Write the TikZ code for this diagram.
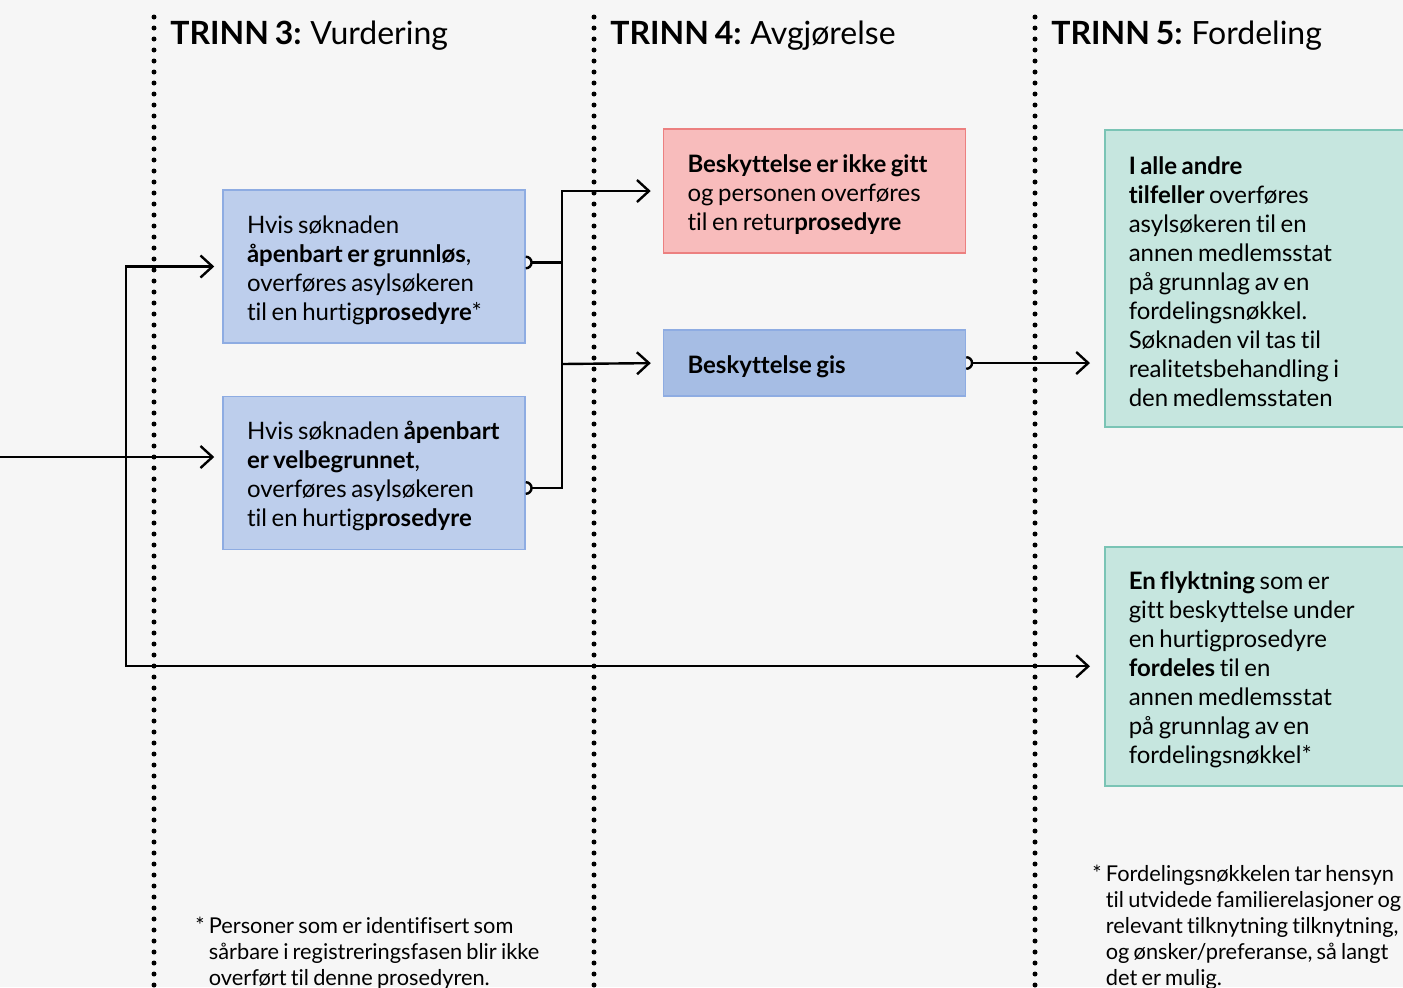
\documentclass[tikz,border=0pt]{standalone}
\usepackage{fontspec}
\setmainfont{Lato}[Ligatures={TeX,NoCommon}, WordSpace=0.75]
\usepackage{tikz}
\usetikzlibrary{arrows.meta, positioning}
\definecolor{bgcolor}{RGB}{246,246,246}
\definecolor{screencolor}{RGB}{189,206,236}
\definecolor{screenline}{RGB}{142,172,226}
\definecolor{grantcolor}{RGB}{166,189,228}
\definecolor{refusecolor}{RGB}{248,188,188}
\definecolor{refuseline}{RGB}{236,128,128}
\definecolor{sharecolor}{RGB}{198,230,223}
\definecolor{shareline}{RGB}{122,196,181}
\hyphenpenalty=10000
\exhyphenpenalty=10000

\begin{document}
\begin{tikzpicture}[
    x=0.5pt, y=-0.5pt,
    every node/.style={font=\fontsize{12}{14.5}\selectfont},
    box/.style={line width=0.75pt, inner xsep=12pt, align=flush left, execute at begin node={\rule{0pt}{12.5pt}}},
    screen/.style={box, draw=screenline, fill=screencolor, minimum height=76.5pt, text width=127pt},
    refuse/.style={box, draw=refuseline, fill=refusecolor, minimum height=62pt, text width=127pt},
    grant/.style={box, draw=screenline, fill=grantcolor, minimum height=33pt, text width=127pt},
    share/.style={box, draw=shareline, fill=sharecolor, text width=150pt, anchor=north west},
    stage/.style={anchor=west, inner sep=0pt, font=\fontsize{16}{19}\selectfont},
    note/.style={anchor=north west, inner sep=0pt, align=left, font=\fontsize{10.9}{13}\selectfont},
    divider/.style={line width=2.5pt, line cap=round, dash pattern=on 0pt off 5.5pt},
    flow/.style={-{Straight Barb[length=6pt, width=11pt]}, line width=1.2pt},
    outflow/.style={{Arc Barb[reversed, length=3.5pt, width=7pt]}-{Straight Barb[length=6pt, width=11pt]}, line width=1.2pt},
    outlink/.style={{Arc Barb[reversed, length=3.5pt, width=7pt]}-, line width=1.2pt}
]
    \useasboundingbox (0,0) rectangle (1403,987);
    \fill[bgcolor] (0,0) rectangle (1403,987);
    \clip (0,0) rectangle (1403,987);

    % Stages
    \draw[divider] (154,17) -- (154,1000);
    \draw[divider] (594,17) -- (594,1000);
    \draw[divider] (1035,17) -- (1035,1000);
    \node[stage] (stage3) at (170,36) {\textbf{TRINN 3:} Vurdering};
    \node[stage] (stage4) at (610,36) {\textbf{TRINN 4:} Avgjørelse};
    \node[stage] (stage5) at (1051,36) {\textbf{TRINN 5:} Fordeling};

    % Boxes
    \node[screen] (unfounded) at (374,266.5) {Hvis søknaden\\\textbf{åpenbart~er~grunnløs},\\overføres asylsøkeren\\til en hurtig\textbf{prosedyre}*};
    \node[screen] (founded) at (374,473) {Hvis~søknaden~\textbf{åpenbart}\\\textbf{er velbegrunnet},\\overføres asylsøkeren\\til en hurtig\textbf{prosedyre}};
    \node[refuse] (refused) at (814.5,191) {\textbf{Beskyttelse~er~ikke~gitt}\\og~personen~overføres\\til en retur\textbf{prosedyre}};
    \node[grant] (granted) at (814.5,363) {\textbf{Beskyttelse gis}};
    \node[share, minimum height=148.5pt] (others) at (1104,129) {\textbf{I alle andre}\\\textbf{tilfeller} overføres\\asylsøkeren til en\\annen medlemsstat\\på grunnlag av en\\fordelingsnøkkel.\\Søknaden vil tas til\\realitetsbehandling i\\den medlemsstaten};
    \node[share, minimum height=119.5pt] (refugee) at (1104,546) {\textbf{En flyktning} som er\\gitt beskyttelse under\\en hurtigprosedyre\\\textbf{fordeles} til en\\annen medlemsstat\\på grunnlag av en\\fordelingsnøkkel*};

    % Notes
    \node[note] (vulnerable) at (195,917) {* Personer som er identifisert som\\\phantom{* }sårbare i registreringsfasen blir ikke\\\phantom{* }overført til denne prosedyren.};
    \node[note] (key) at (1092,865) {* Fordelingsnøkkelen tar hensyn\\\phantom{* }til utvidede familierelasjoner og\\\phantom{* }relevant tilknytning tilknytning,\\\phantom{* }og ønsker/preferanse, så langt\\\phantom{* }det er mulig.};

    % Flows
    \coordinate (in) at (0,457);
    \coordinate (spine) at (126,457);
    \coordinate (fork) at (562,364);
    \draw[flow, shorten >=4pt] (in) -- (in -| founded.west);
    \draw[flow, shorten >=4pt] (spine) |- (unfounded.west);
    \draw[flow, shorten >=7pt] (spine) |- (refugee.west);
    \draw[outlink] ([yshift=2pt]unfounded.east) -- ([yshift=2pt]unfounded.east -| fork);
    \draw[outflow, shorten >=6pt] ([yshift=-7.5pt]founded.east) -| (fork |- refused.west) -- (refused.west);
    \draw[flow, shorten >=6pt] (fork) -- (granted.west);
    \draw[outflow, shorten >=7pt] (granted.east) -- (granted.east -| others.west);
\end{tikzpicture}
\end{document}
